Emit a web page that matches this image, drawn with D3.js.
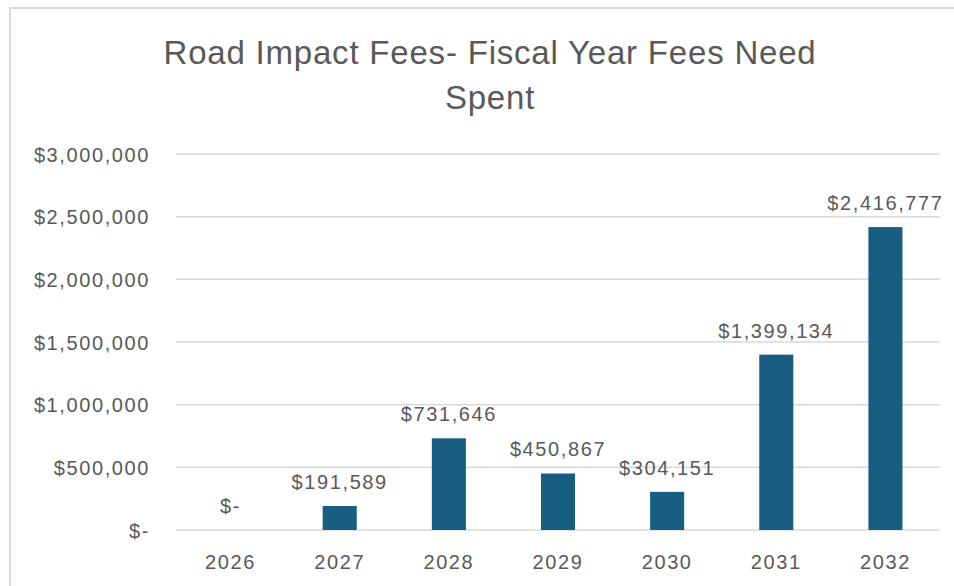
<!DOCTYPE html>
<html>
<head>
<meta charset="utf-8">
<script src="https://cdn.jsdelivr.net/npm/d3@7"></script>
<style>
  html, body { margin: 0; padding: 0; background: #ffffff; }
  svg { display: block; }
  .axis-label, .value-label, .title { font-family: "Liberation Sans", Arial, sans-serif; fill: #595959; }
</style>
</head>
<body>
<svg id="chart" width="954" height="586"></svg>
<script>
// Fiscal years and the road impact fees that must be spent in each
const years = ["2026", "2027", "2028", "2029", "2030", "2031", "2032"];
const fees = [0, 191589, 731646, 450867, 304151, 1399134, 2416777];
const yTicks = [0, 500000, 1000000, 1500000, 2000000, 2500000, 3000000];
const titleLines = ["Road Impact Fees- Fiscal Year Fees Need", "Spent"];

const svg = d3.select("#chart");

// Chart frame
svg.append("rect")
  .attr("x", 10).attr("y", 8)
  .attr("width", 960).attr("height", 600)
  .attr("fill", "#ffffff")
  .attr("stroke", "#d9d9d9").attr("stroke-width", 2);

const plot = { left: 176, right: 940, top: 154, bottom: 530 };

const x = d3.scaleBand()
  .domain(years)
  .range([plot.left, plot.right])
  .paddingInner(0.688)
  .paddingOuter(0.344);

const y = d3.scaleLinear()
  .domain([0, 3000000])
  .range([plot.bottom, plot.top]);

const money = v => v === 0 ? "$-" : "$" + d3.format(",")(v);

// Title
svg.append("text")
  .attr("class", "title")
  .attr("text-anchor", "middle")
  .attr("font-size", 33)
  .attr("letter-spacing", 0.8)
  .selectAll("tspan")
  .data(titleLines)
  .join("tspan")
  .attr("x", 490)
  .attr("y", (d, i) => 64 + i * 45)
  .text(d => d);

// Horizontal gridlines
svg.append("g")
  .selectAll("line")
  .data(yTicks)
  .join("line")
  .attr("x1", plot.left).attr("x2", plot.right)
  .attr("y1", d => y(d)).attr("y2", d => y(d))
  .attr("stroke", "#d9d9d9").attr("stroke-width", 1.5);

// Y axis labels
const yAxis = d3.axisLeft(y).tickValues(yTicks).tickFormat(money).tickSize(0).tickPadding(0);
const gy = svg.append("g").attr("transform", `translate(150,0)`).call(yAxis);
gy.select(".domain").remove();
gy.selectAll("text")
  .attr("class", "axis-label")
  .attr("font-size", 20)
  .attr("letter-spacing", 1.6)
  .attr("fill", "#595959")
  .attr("dy", "0.35em");

// X axis labels
const xAxis = d3.axisBottom(x).tickSize(0).tickPadding(0);
const gx = svg.append("g").attr("transform", `translate(0,${plot.bottom})`).call(xAxis);
gx.select(".domain").remove();
gx.selectAll("text")
  .attr("class", "axis-label")
  .attr("font-size", 20)
  .attr("letter-spacing", 1.6)
  .attr("fill", "#595959")
  .attr("dy", 0)
  .attr("y", 39);

const rows = years.map((yr, i) => ({ yr, v: fees[i] }));

// Bars
svg.append("g")
  .selectAll("rect")
  .data(rows)
  .join("rect")
  .attr("x", d => x(d.yr))
  .attr("width", x.bandwidth())
  .attr("y", d => y(d.v))
  .attr("height", d => y(0) - y(d.v))
  .attr("fill", "#175e82");

// Value labels above bars
svg.append("g")
  .selectAll("text")
  .data(rows)
  .join("text")
  .attr("class", "value-label")
  .attr("text-anchor", "middle")
  .attr("font-size", 20)
  .attr("letter-spacing", 1.6)
  .attr("x", d => x(d.yr) + x.bandwidth() / 2)
  .attr("y", d => y(d.v) - 17)
  .text(d => money(d.v));
</script>
</body>
</html>
